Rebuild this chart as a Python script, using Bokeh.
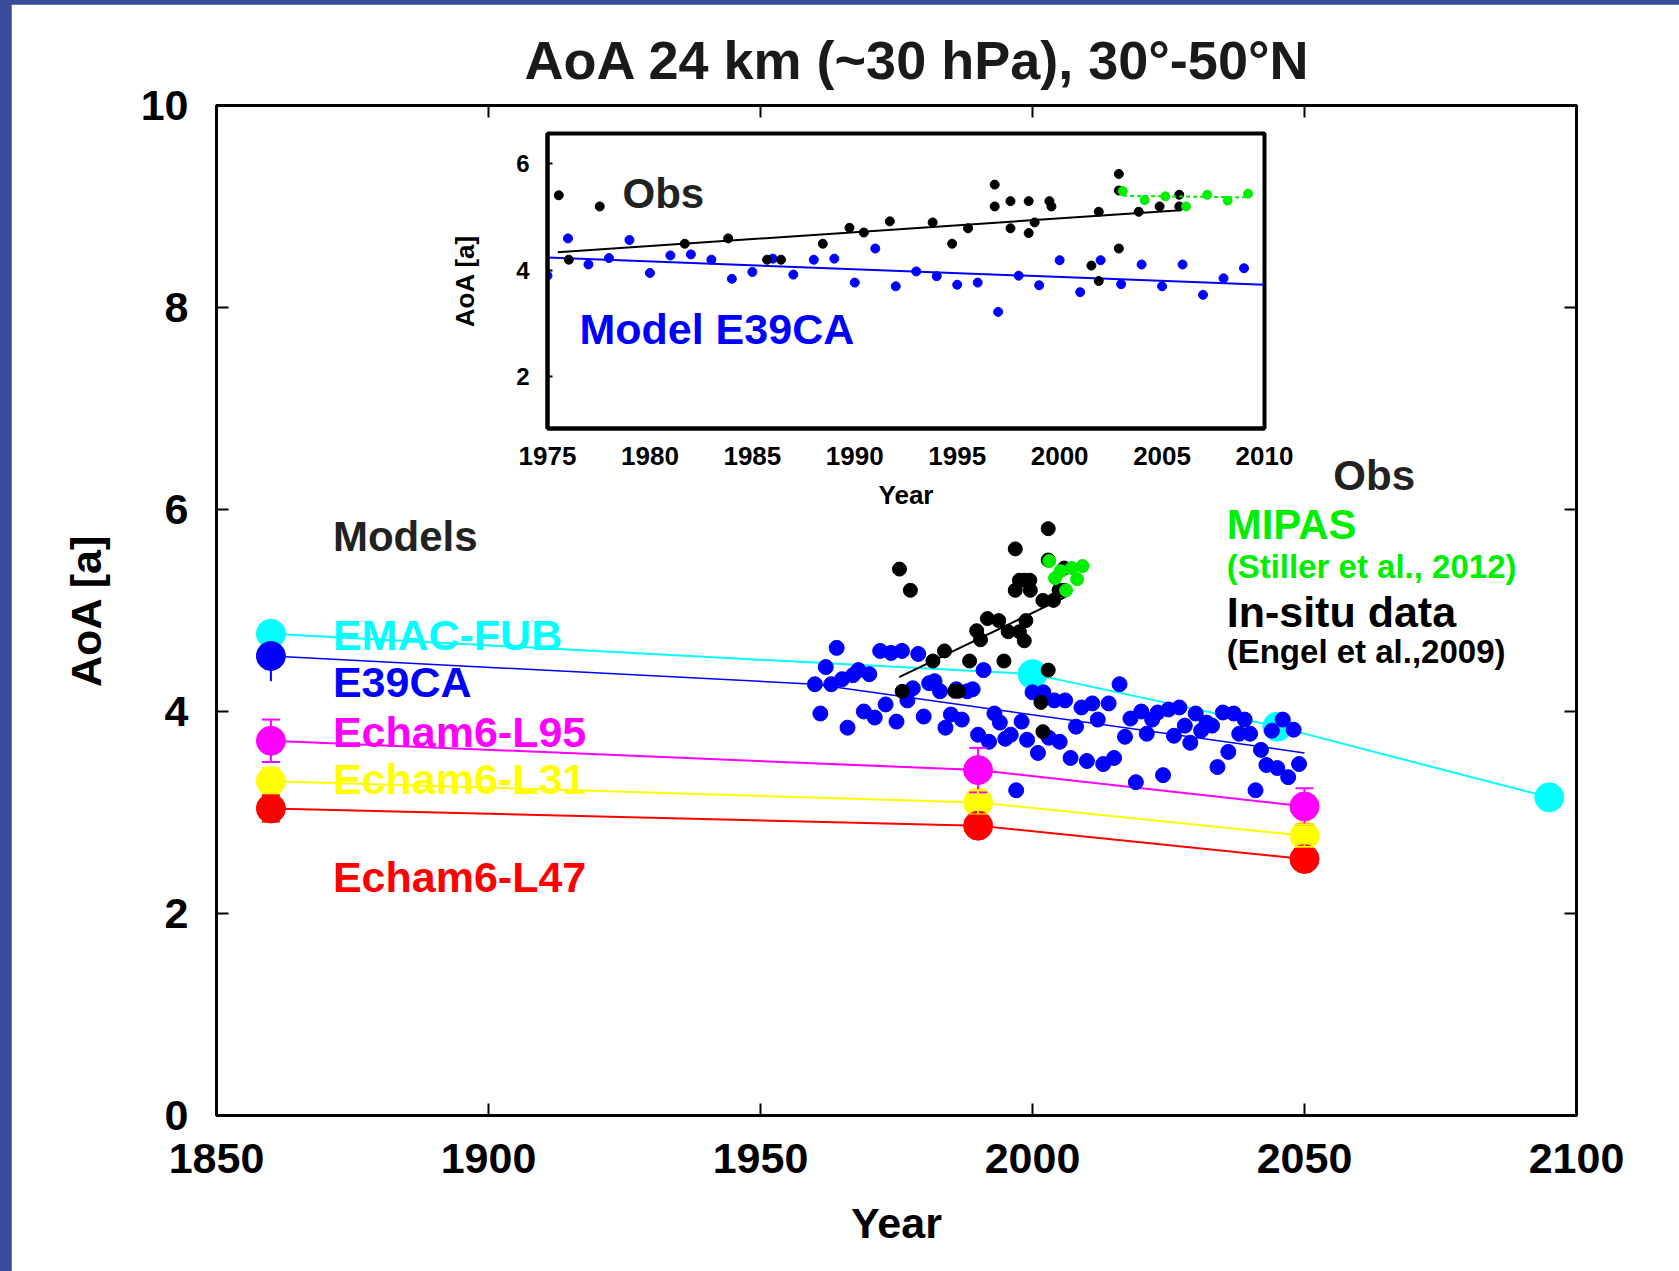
from bokeh.plotting import figure
from bokeh.models import (Range1d, LinearAxis, FixedTicker, Label, Whisker,
                          TeeHead, ColumnDataSource)
from bokeh.layouts import column
from bokeh.embed import file_html
from bokeh.resources import INLINE

FONT = "Liberation Sans"

# ---------------- data ----------------
e39ca_years = list(range(1960, 2050))
e39ca_aoa = [4.27, 3.98, 4.44, 4.27, 4.63, 4.32, 3.84, 4.36, 4.41, 4.00,
             4.37, 3.94, 4.60, 4.07, 4.58, 3.90, 4.60, 4.11, 4.23, 4.57,
             3.95, 4.28, 4.30, 4.20, 3.84, 3.97, 4.22, 3.92, 4.20, 4.22,
             3.77, 4.41, 3.70, 3.98, 3.89, 3.73, 3.77, 3.22, 3.90, 3.72,
             4.19, 3.59, 4.19, 3.74, 4.11, 3.70, 4.11, 3.54, 3.85, 4.04,
             3.51, 4.08, 3.92, 3.48, 4.08, 3.54, 4.27, 3.75, 3.93, 3.30,
             4.00, 3.78, 3.92, 3.99, 3.37, 4.02, 3.76, 4.04, 3.86, 3.69,
             3.98, 3.81, 3.89, 3.86, 3.45, 3.99, 3.60, 3.98, 3.78, 3.92,
             3.78, 3.22, 3.62, 3.47, 3.81, 3.44, 3.92, 3.35, 3.82, 3.48]
inset_period = (1975, 2009)

insitu_years = [1975.55, 1976.04, 1977.55, 1981.7, 1983.82, 1985.72, 1986.4,
                1988.44, 1989.74, 1990.44, 1991.71, 1993.8, 1994.75, 1995.53,
                1996.83, 1996.83, 1997.6, 1997.6, 1998.49, 1998.49, 1998.78,
                1999.5, 1999.6, 2001.55, 2001.91, 2001.91, 2002.89, 2002.89,
                2002.89, 2003.86, 2004.88, 2005.84, 2005.84]
insitu_aoa = [5.41, 4.20, 5.20, 4.50, 4.60, 4.20, 4.20, 4.50, 4.80, 4.71,
              4.92, 4.90, 4.50, 4.79, 5.61, 5.20, 5.30, 4.79, 5.30, 4.70,
              4.90, 5.30, 5.20, 4.09, 5.10, 3.80, 5.81, 5.50, 4.41, 5.10,
              5.20, 5.42, 5.20]

mipas_years = [2003.08, 2004.15, 2005.16, 2006.17, 2007.2, 2008.2, 2009.2]
mipas_aoa = [5.49, 5.32, 5.39, 5.20, 5.42, 5.31, 5.44]

insitu_fit_years = [1975.5, 2005.9]
insitu_fit_aoa = [4.34, 5.13]
mipas_fit_years = [2003.1, 2009.2]
mipas_fit_aoa = [5.40, 5.37]
e39ca_fit_inset_years = [1975, 2010]
e39ca_fit_inset_aoa = [4.24, 3.73]

# model means (time slices)
emac_years = [1860, 2000, 2045, 2095]
emac_aoa = [4.77, 4.37, 3.85, 3.15]
e39_mean_years = [1860]
e39_mean_aoa = [4.55]
e39_mean_err = [0.25]
e39_line_years = [1860, 1960, 2050]
e39_line_aoa = [4.55, 4.27, 3.59]
echam_years = [1860, 1990, 2050]
l95_aoa = [3.71, 3.42, 3.06]
l95_err = [0.21, 0.22, 0.18]
l31_aoa = [3.31, 3.10, 2.77]
l31_err = [0.13, 0.12, 0.11]
l47_aoa = [3.04, 2.87, 2.54]
l47_err = [0.13, 0.10, 0.10]

x_ticks = [1850, 1900, 1950, 2000, 2050, 2100]
y_ticks = [0, 2, 4, 6, 8, 10]
inset_x_ticks = [1975, 1980, 1985, 1990, 1995, 2000, 2005, 2010]
inset_y_ticks = [2, 4, 6]

CYAN, BLUE, MAG, YEL, RED = "#00ffff", "#0000ff", "#ff00ff", "#ffff00", "#ff0000"
GREEN = "#00ee00"
DARK = "#222222"

# ---------------- main figure ----------------
p = figure(width=1668, height=1267, x_range=Range1d(1850, 2100),
           y_range=Range1d(0, 10), output_backend="svg", toolbar_location=None,
           min_border_left=205, min_border_right=103, min_border_top=101,
           min_border_bottom=156, background_fill_color="white",
           border_fill_color="white", outline_line_color="black",
           outline_line_width=3,
           title="AoA 24 km (~30 hPa), 30°-50°N")
p.title.align = "left"
p.title.offset = 308
p.title.text_font = FONT
p.title.text_font_style = "bold"
p.title.text_font_size = "54px"
p.title.text_color = "#1a1a1a"
p.title.standoff = 31
p.xgrid.visible = False
p.ygrid.visible = False

p.xaxis.ticker = FixedTicker(ticks=x_ticks)
p.yaxis.ticker = FixedTicker(ticks=y_ticks)
for ax in (p.xaxis[0], p.yaxis[0]):
    ax.major_label_text_font = FONT
    ax.major_label_text_font_style = "bold"
    ax.major_label_text_font_size = "43px"
    ax.major_label_text_color = "black"
    ax.axis_label_text_font = FONT
    ax.axis_label_text_font_style = "bold"
    ax.axis_label_text_font_size = "43px"
    ax.axis_label_text_color = "black"
    ax.major_tick_in = 12
    ax.major_tick_out = 0
    ax.major_tick_line_width = 2
    ax.minor_tick_line_color = None
    ax.axis_line_width = 3
p.xaxis.axis_label = "Year"
p.xaxis.major_label_standoff = 28
p.xaxis.axis_label_standoff = 23
p.yaxis.axis_label = "AoA [a]"
p.yaxis.major_label_standoff = 28
p.yaxis.axis_label_standoff = 28

for side, ticks in (("right", y_ticks), ("above", x_ticks)):
    ax = LinearAxis(ticker=FixedTicker(ticks=ticks), major_label_text_color=None,
                    major_label_text_font_size="1px", major_label_standoff=0,
                    major_tick_in=12, major_tick_out=0, major_tick_line_width=2,
                    minor_tick_line_color=None, axis_line_width=3)
    p.add_layout(ax, side)

# model lines & markers
p.line(emac_years, emac_aoa, line_color=CYAN, line_width=2)
p.scatter(emac_years, emac_aoa, size=29, color=CYAN)

p.line(e39_line_years, e39_line_aoa, line_color=BLUE, line_width=1.5)
src = ColumnDataSource(dict(x=e39_mean_years,
                            up=[a + e for a, e in zip(e39_mean_aoa, e39_mean_err)],
                            lo=[a - e for a, e in zip(e39_mean_aoa, e39_mean_err)]))
p.add_layout(Whisker(source=src, base="x", upper="up", lower="lo",
                     line_color=BLUE, line_width=2, upper_head=None, lower_head=None))
p.scatter(e39_mean_years, e39_mean_aoa, size=29, color=BLUE)

for aoa, err, col in ((l95_aoa, l95_err, MAG), (l31_aoa, l31_err, YEL),
                      (l47_aoa, l47_err, RED)):
    p.line(echam_years, aoa, line_color=col, line_width=2)
    s = ColumnDataSource(dict(x=echam_years,
                              up=[a + e for a, e in zip(aoa, err)],
                              lo=[a - e for a, e in zip(aoa, err)]))
    p.add_layout(Whisker(source=s, base="x", upper="up", lower="lo",
                         line_color=col, line_width=2, level="glyph",
                         upper_head=TeeHead(size=18, line_color=col, line_width=2),
                         lower_head=TeeHead(size=18, line_color=col, line_width=2)))
    p.scatter(echam_years, aoa, size=29, color=col)

# annual E39CA and observations
p.scatter(e39ca_years, e39ca_aoa, size=15, color=BLUE)
p.scatter(insitu_years, insitu_aoa, size=14, color="black")
p.line(insitu_fit_years, insitu_fit_aoa, line_color="black", line_width=2)
p.scatter(mipas_years, mipas_aoa, size=13, color=GREEN)


def add_label(fig, x, y, text, size, color):
    fig.add_layout(Label(x=x, y=y, text=text, text_font=FONT,
                         text_font_style="bold", text_font_size=size,
                         text_color=color, text_align="left",
                         text_baseline="middle"))


add_label(p, 1871.4, 5.73, "Models", "42px", DARK)
add_label(p, 1871.4, 4.76, "EMAC-FUB", "43px", CYAN)
add_label(p, 1871.4, 4.29, "E39CA", "43px", BLUE)
add_label(p, 1871.4, 3.80, "Echam6-L95", "43px", MAG)
add_label(p, 1871.4, 3.33, "Echam6-L31", "43px", YEL)
add_label(p, 1871.4, 2.36, "Echam6-L47", "43px", RED)
add_label(p, 2055.3, 6.34, "Obs", "42px", DARK)
add_label(p, 2035.7, 5.855, "MIPAS", "42px", GREEN)
add_label(p, 2035.7, 5.44, "(Stiller et al., 2012)", "33px", GREEN)
add_label(p, 2035.7, 4.99, "In-situ data", "43px", "black")
add_label(p, 2035.7, 4.59, "(Engel et al.,2009)", "33px", "black")

p.margin = (4, 0, 0, 11)

# ---------------- inset figure ----------------
# frame borders match the main plot's (the column aligns them)
q = figure(width=1025, height=413, x_range=Range1d(1975, 2010),
           y_range=Range1d(1.03, 6.57), output_backend="svg",
           toolbar_location=None, min_border_left=205, min_border_right=103,
           min_border_top=8, min_border_bottom=110,
           background_fill_color="white", border_fill_alpha=0,
           outline_line_color="black", outline_line_width=4)
q.xgrid.visible = False
q.ygrid.visible = False
q.xaxis.ticker = FixedTicker(ticks=inset_x_ticks)
q.yaxis.ticker = FixedTicker(ticks=inset_y_ticks)
for ax in (q.xaxis[0], q.yaxis[0]):
    ax.major_label_text_font = FONT
    ax.major_label_text_font_style = "bold"
    ax.major_label_text_color = "black"
    ax.axis_label_text_font = FONT
    ax.axis_label_text_font_style = "bold"
    ax.axis_label_text_font_size = "26px"
    ax.axis_label_text_color = "black"
    ax.major_tick_out = 0
    ax.major_tick_line_width = 2
    ax.minor_tick_line_color = None
    ax.axis_line_width = 4
q.xaxis.major_label_text_font_size = "26px"
q.xaxis.major_tick_in = 0
q.xaxis.major_label_standoff = 18
q.xaxis.axis_label = "Year"
q.xaxis.axis_label_standoff = 12
q.yaxis.major_label_text_font_size = "24px"
q.yaxis.major_tick_in = 5
q.yaxis.major_label_standoff = 18
q.yaxis.axis_label = "AoA [a]"
q.yaxis.axis_label_standoff = 33

inset_years = [y for y in e39ca_years if inset_period[0] <= y <= inset_period[1]]
inset_aoa = [a for y, a in zip(e39ca_years, e39ca_aoa)
             if inset_period[0] <= y <= inset_period[1]]

q.line(e39ca_fit_inset_years, e39ca_fit_inset_aoa, line_color=BLUE, line_width=2)
q.scatter(inset_years, inset_aoa, size=9, color=BLUE)
q.line(insitu_fit_years, insitu_fit_aoa, line_color="black", line_width=2)
q.scatter(insitu_years, insitu_aoa, size=9, color="black")
q.line(mipas_fit_years, mipas_fit_aoa, line_color=GREEN, line_width=2,
       line_dash="4 3")
q.scatter(mipas_years, mipas_aoa, size=9, color=GREEN)

add_label(q, 1978.66, 5.44, "Obs", "42px", DARK)
add_label(q, 1976.56, 2.89, "Model E39CA", "43px", BLUE)

q.margin = (125 - 1271, 0, 1271 - 538, 342)

layout = column(p, q, styles={"background-color": "#3a4b9c"})

open("out.html", "w").write(file_html(layout, INLINE))
